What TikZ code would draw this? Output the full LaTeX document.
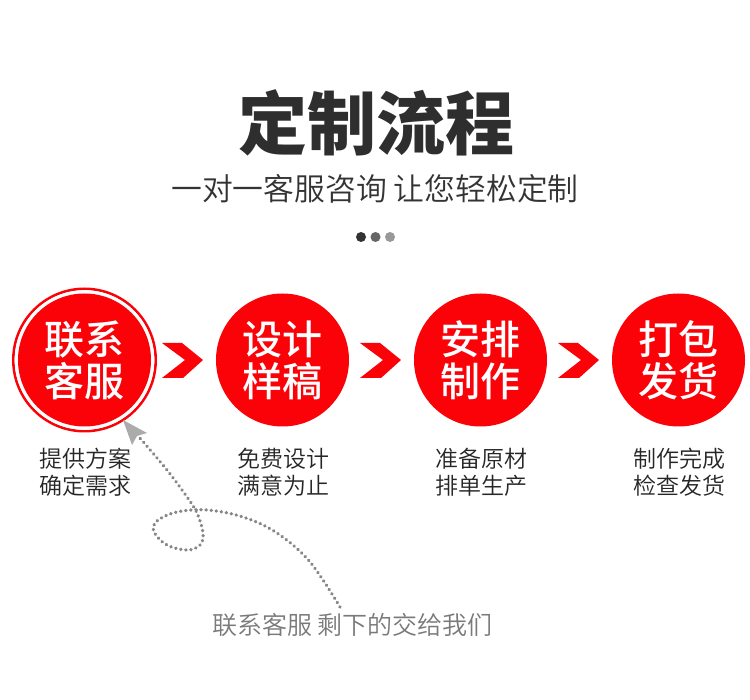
\documentclass[tikz,border=0pt]{standalone}
\usepackage{fontspec}
\setmainfont{Noto Sans CJK SC}
\newfontfamily\cjkbold{Noto Sans CJK SC Black}
\newfontfamily\cjklight{Noto Sans CJK SC DemiLight}
\newfontfamily\cjkmed{Noto Sans CJK SC Medium}
\definecolor{brandred}{HTML}{FA0208}
\definecolor{dotgray}{HTML}{868686}
\definecolor{headgray}{HTML}{ABABAB}
\tikzset{
  stepdisc/.style={circle,fill=brandred,minimum size=133pt,inner sep=0pt,text=white,align=center,
    font=\cjkmed\fontsize{40}{42}\selectfont},
  chevron/.style={fill=brandred},
  caption/.style={align=center,text=black!85,font=\cjklight\fontsize{23}{27}\selectfont},
  dotline/.style={draw=dotgray,line width=3.5pt,line cap=round,dash pattern=on 0.2pt off 4.9pt},
}
\begin{document}
\begin{tikzpicture}[x=1pt,y=-1pt]
\useasboundingbox (0,0) rectangle (750,700);
\fill[white] (0,0) rectangle (750,700);
\node[text=black!82,font=\cjkbold\fontsize{69}{71}\selectfont] (title) at (376,123) {定制流程};
\node[text=black!80,font=\cjklight\fontsize{30.8}{32}\selectfont] (sub) at (375,189) {一对一客服咨询 让您轻松定制};
\fill[black!80] (361,237) circle (5);
\fill[black!60] (375.5,237) circle (5);
\fill[black!40] (390,237) circle (5);

\node[stepdisc] (s1) at (84.5,360) {\raisebox{-0.5pt}{联系}\\\raisebox{-0.5pt}{客服}};
\draw[brandred,line width=2.6pt] (s1.center) circle (71.2);
\draw[white,line width=2.4pt] (s1.center) circle (68.6);
\node[stepdisc] (s2) at (282.5,360) {\raisebox{-0.5pt}{设计}\\\raisebox{-0.5pt}{样稿}};
\node[stepdisc] (s3) at (480.5,360) {\raisebox{-0.5pt}{安排}\\\raisebox{-0.5pt}{制作}};
\node[stepdisc] (s4) at (678.5,360) {\raisebox{-0.5pt}{打包}\\\raisebox{-0.5pt}{发货}};

\foreach \cx in {162,360,558}{
  \fill[chevron,shift={(\cx,0)}] (0,343) -- (20,343) -- (41,360) -- (21,378) -- (0,378) -- (23,360) -- cycle;
}

\node[caption] (c1) at (85,472) {提供方案\\确定需求};
\node[caption] (c2) at (283,472) {免费设计\\满意为止};
\node[caption] (c3) at (481,472) {准备原材\\排单生产};
\node[caption] (c4) at (679,472) {制作完成\\检查发货};

\node[text=black!52,font=\cjklight\fontsize{25}{27}\selectfont] (note) at (352.5,625) {联系客服 剩下的交给我们};

\coordinate (curvestart) at (340,607);
\coordinate (curveend) at (139,437);
\draw[dotline] plot[smooth,tension=0.6] coordinates {(curvestart) (310,562) (277,533) (243,517) (207,510) (177,512) (157,521) (154,532) (167,545) (187,550) (200,545) (203,533) (197,513) (187,497) (167,470) (curveend)};
\fill[headgray] (123,420) -- (147,433) -- (137,436) -- (132,445) -- cycle;
\end{tikzpicture}
\end{document}
